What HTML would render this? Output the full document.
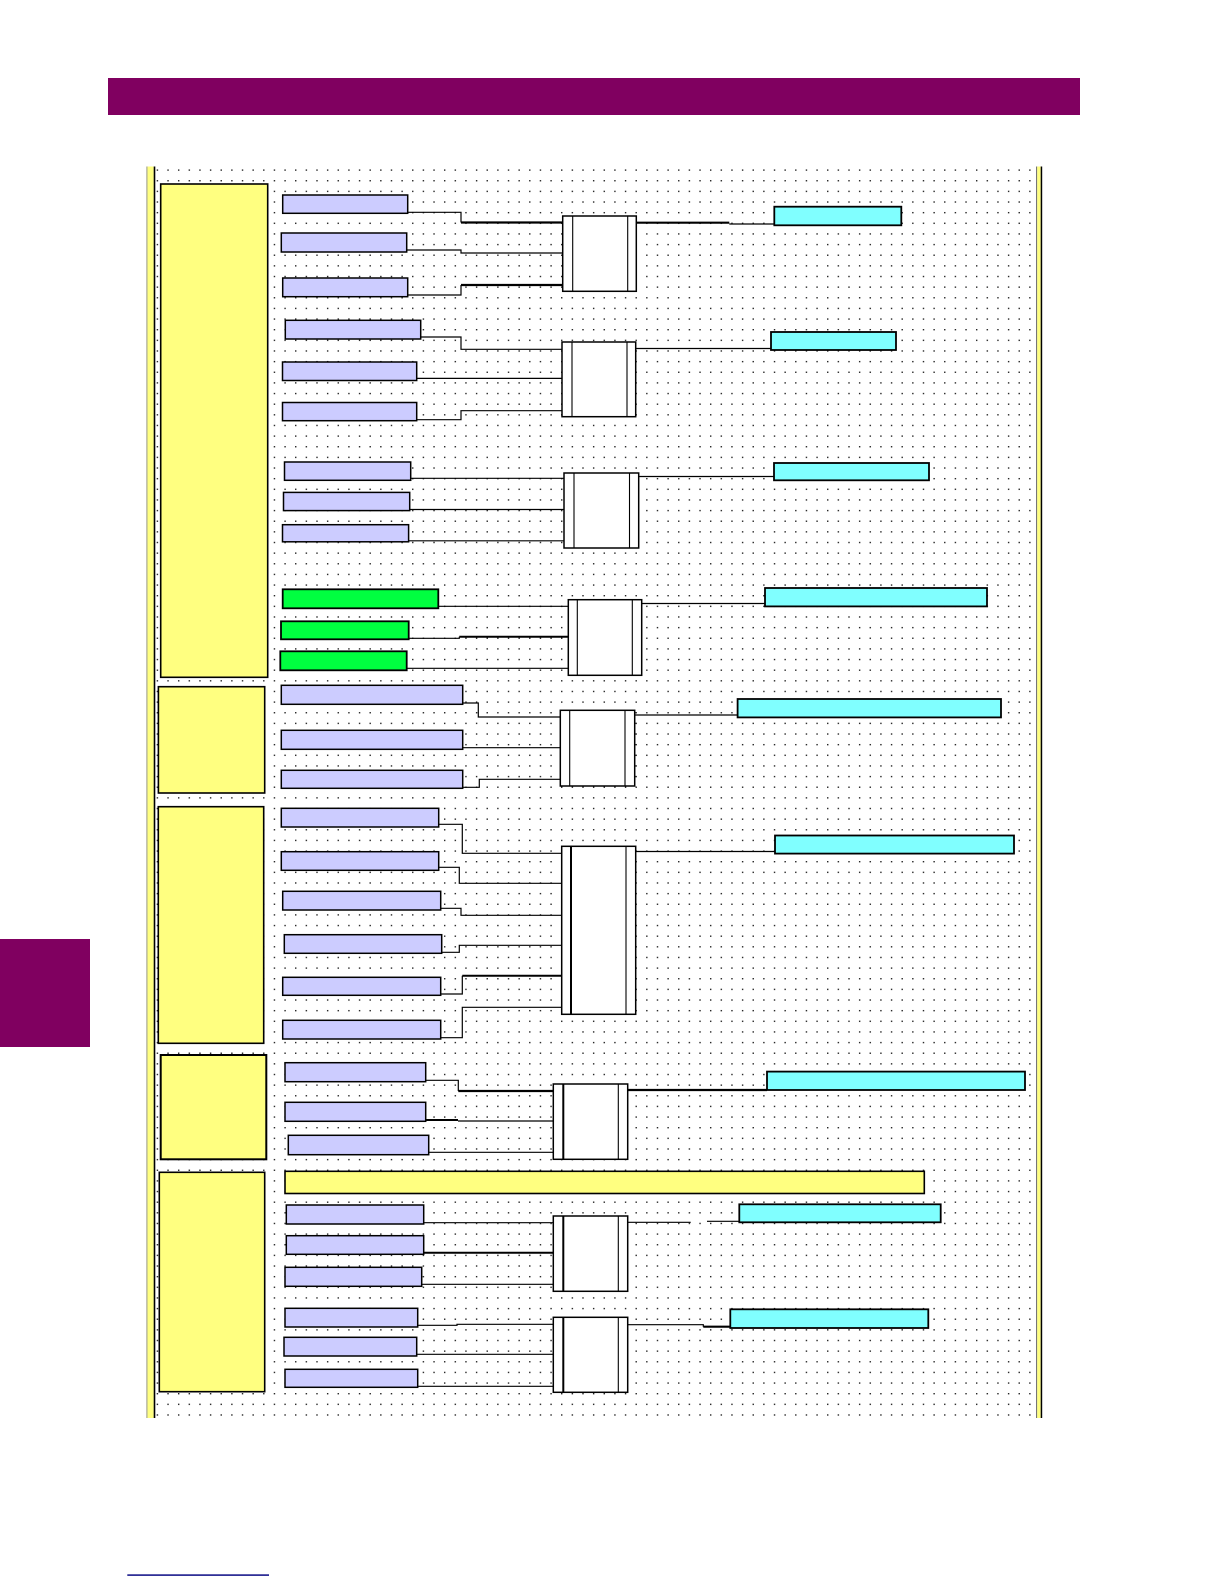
<!DOCTYPE html>
<html>
<head>
<meta charset="utf-8">
<style>
html,body{margin:0;padding:0;background:#fff;}
body{width:1224px;height:1584px;overflow:hidden;position:relative;font-family:"Liberation Sans",sans-serif;}
svg{position:absolute;left:0;top:0;}
</style>
</head>
<body>
<svg width="1224" height="1584" viewBox="0 0 1224 1584" xmlns="http://www.w3.org/2000/svg">
<defs>
<pattern id="dots" x="156.7" y="169.4" width="10.64" height="10.64" patternUnits="userSpaceOnUse">
<rect x="0" y="0" width="1.4" height="1.4" fill="#222"/>
</pattern>
</defs>

<!-- header bar -->
<rect x="108" y="78" width="972" height="37" fill="#800060"/>
<!-- left side tab -->
<rect x="0" y="939" width="90" height="108" fill="#800060"/>
<!-- bottom blue line -->
<rect x="127.3" y="1574.3" width="141.7" height="1.6" fill="#1a1a8c"/>

<!-- dot grid -->
<rect x="155" y="166" width="878" height="1253" fill="url(#dots)"/>

<!-- left frame strip -->
<rect x="146.3" y="166.5" width="1.2" height="1251.5" fill="#a8a890"/>
<rect x="147.5" y="166.5" width="6.2" height="1251.5" fill="#ffff80"/>
<rect x="153.7" y="166.5" width="1.6" height="1251.5" fill="#000"/>
<!-- right frame strip -->
<rect x="1036.2" y="166.5" width="1" height="1251.5" fill="#555"/>
<rect x="1037.2" y="166.5" width="3.5" height="1251.5" fill="#ffff80"/>
<rect x="1040.7" y="166.5" width="1.5" height="1251.5" fill="#000"/>

<!-- section panels -->
<g fill="#ffff80" stroke="#000" stroke-width="1.6">
<rect x="160.7" y="184" width="107" height="493.3"/>
<rect x="158.4" y="686.7" width="106.3" height="106.3"/>
<rect x="158.3" y="806.7" width="105.4" height="236.6"/>
<rect x="160.7" y="1055" width="105.6" height="104.3" stroke-width="2"/>
<rect x="159.3" y="1172.3" width="105.4" height="219.4"/>
<rect x="285" y="1171.3" width="639.3" height="22.2"/>
</g>

<!-- connection lines -->
<g fill="none" stroke="#000" stroke-width="1.2">
<!-- group 1 -->
<path d="M407.7,212.3 H461 V222.5"/>
<path d="M461,222.5 H562.7" stroke-width="2.2"/>
<path d="M406.7,250 H461 V253 H562.7"/>
<path d="M407.7,295 H461 V285"/>
<path d="M461,285 H562.7" stroke-width="2.2"/>
<!-- group 2 -->
<path d="M420.7,337 H461 V349.3 H562"/>
<path d="M416.7,378.4 H562"/>
<path d="M416.7,419.7 H461 V410.7 H562"/>
<!-- group 3 -->
<path d="M410.7,478.3 H564"/>
<path d="M409.7,509.5 H564"/>
<path d="M408.6,540.8 H564"/>
<!-- group 4 -->
<path d="M438.3,606.3 H568.3"/>
<path d="M408.7,638.3 H459.3 V636.7"/>
<path d="M459.3,636.7 H568.3" stroke-width="2"/>
<path d="M406.7,668.3 H568.3"/>
<!-- section 2 -->
<path d="M462.7,703 H478.3 V717 H560.3"/>
<path d="M462.7,747.7 H560.3"/>
<path d="M462.7,787.3 H479.3 V779.3 H560.3"/>
<!-- section 3 -->
<path d="M438.7,824.3 H462.3 V853.3 H561.7"/>
<path d="M438.7,867.3 H459.3 V883.3 H561.7"/>
<path d="M440.7,908.3 H461 V915.3 H561.7"/>
<path d="M441.7,952.3 H459.3 V945.3 H561.7"/>
<path d="M440.7,994 H462.3 V975.7"/>
<path d="M462.3,975.7 H561.7" stroke-width="2"/>
<path d="M440.7,1037.7 H462.3 V1007.3 H561.7"/>
<!-- section 4 -->
<path d="M425.7,1080.3 H458.3 V1091"/>
<path d="M458.3,1091 H553.3" stroke-width="2.2"/>
<path d="M425.7,1120 H458" stroke-width="2"/>
<path d="M458,1121 H553.3"/>
<path d="M428.7,1152.3 H553.3"/>
<!-- section 5 -->
<path d="M423.7,1222.7 H553.3"/>
<path d="M423.7,1252.7 H553.3" stroke-width="2"/>
<path d="M421.7,1284.3 H553.3"/>
<path d="M417.7,1325.3 H457 V1324.3 H553.3"/>
<path d="M416.7,1354.3 H553.3"/>
<path d="M417.7,1386.3 H553.3"/>

<!-- outputs -->
<path d="M636.3,222.7 H729.3" stroke-width="2.2"/>
<path d="M729.3,224 H774.3"/>
<path d="M635.7,348.5 H771"/>
<path d="M638.7,476.5 H774"/>
<path d="M641.7,603.5 H765"/>
<path d="M634.7,715 H737.6"/>
<path d="M635.7,851.5 H775"/>
<path d="M627.7,1090 H767" stroke-width="2.2"/>
<path d="M627.7,1222.3 H690.7"/>
<path d="M707,1221.3 H739.3"/>
<path d="M627.7,1324.7 H703.3 V1326.7"/>
<path d="M703.3,1326.7 H730.3" stroke-width="2.2"/>
</g>

<!-- input boxes (lilac) -->
<g fill="#ccccff" stroke="#000" stroke-width="1.5">
<rect x="282.7" y="195" width="125" height="18.3"/>
<rect x="281.3" y="233" width="125.4" height="19"/>
<rect x="282.7" y="278" width="125" height="18.7"/>
<rect x="285.3" y="320.3" width="135.4" height="18.7"/>
<rect x="282.5" y="362" width="134.2" height="18.5"/>
<rect x="282.5" y="402.5" width="134.2" height="18.2"/>
<rect x="284.5" y="462" width="126.2" height="18.3"/>
<rect x="283.5" y="492.4" width="126.2" height="18.2"/>
<rect x="282.5" y="524.7" width="126.1" height="17.1"/>
<rect x="281.3" y="685.3" width="181.4" height="19"/>
<rect x="281.3" y="730.3" width="181.4" height="19"/>
<rect x="281.3" y="770.3" width="181.4" height="18"/>
<rect x="281.3" y="808.3" width="157.4" height="18.7"/>
<rect x="281.3" y="851.7" width="157.4" height="18.6"/>
<rect x="282.7" y="891.3" width="158" height="18.7"/>
<rect x="284.3" y="934.7" width="157.4" height="18.6"/>
<rect x="282.7" y="977.3" width="158" height="18"/>
<rect x="282.7" y="1020.3" width="158" height="18.7"/>
<rect x="285" y="1062.7" width="140.7" height="19"/>
<rect x="285" y="1102.3" width="140.7" height="19"/>
<rect x="288.3" y="1135.3" width="140.4" height="19.4"/>
<rect x="286.3" y="1205" width="137.4" height="19"/>
<rect x="286.3" y="1235.7" width="137.4" height="18.6"/>
<rect x="285" y="1267.3" width="136.7" height="19"/>
<rect x="285" y="1308.3" width="132.7" height="18.7"/>
<rect x="284" y="1337.3" width="132.7" height="18.7"/>
<rect x="285" y="1369.3" width="132.7" height="18"/>
</g>
<!-- green boxes -->
<g fill="#00ff40" stroke="#000" stroke-width="1.8">
<rect x="282.7" y="589.3" width="155.6" height="19"/>
<rect x="281" y="621.3" width="127.7" height="18"/>
<rect x="280.3" y="651.3" width="126.4" height="19"/>
</g>

<!-- gates -->
<g fill="#fff" stroke="#000" stroke-width="1.5">
<rect x="562.7" y="216" width="73.6" height="75.3"/>
<rect x="562" y="342" width="73.7" height="74.7"/>
<rect x="564" y="473" width="74.7" height="75"/>
<rect x="568.3" y="599.7" width="73.4" height="75.6"/>
<rect x="560.3" y="710.3" width="74.4" height="75.7"/>
<rect x="561.7" y="846.3" width="74" height="168"/>
<rect x="553.3" y="1084" width="74.4" height="75.3"/>
<rect x="553.3" y="1216" width="74.4" height="75.3"/>
<rect x="553.3" y="1317.3" width="74.4" height="75"/>
</g>
<g stroke="#000" stroke-width="1.1">
<path d="M572.7,216 V291.3 M627.7,216 V291.3"/>
<path d="M572,342 V416.7 M627,342 V416.7"/>
<path d="M574,473 V548 M629.5,473 V548"/>
<path d="M577.3,599.7 V675.3 M632.3,599.7 V675.3"/>
<path d="M569.7,710.3 V786 M625,710.3 V786"/>
<path d="M571,846.3 V1014.3" stroke-width="2"/>
<path d="M626,846.3 V1014.3"/>
<path d="M563.3,1084 V1159.3" stroke-width="2"/>
<path d="M618.3,1084 V1159.3"/>
<path d="M563.3,1216 V1291.3" stroke-width="2"/>
<path d="M618.3,1216 V1291.3"/>
<path d="M563.3,1317.3 V1392.3" stroke-width="2"/>
<path d="M618.3,1317.3 V1392.3"/>
</g>

<!-- output boxes (cyan) -->
<g fill="#80ffff" stroke="#000" stroke-width="1.8">
<rect x="774.3" y="206.7" width="127" height="18.6"/>
<rect x="771" y="332" width="125" height="18"/>
<rect x="774" y="463" width="155" height="17.3"/>
<rect x="765" y="588" width="222" height="18.4"/>
<rect x="737.6" y="699" width="263.4" height="18.4"/>
<rect x="775" y="835.5" width="239" height="18.1"/>
<rect x="767" y="1071.6" width="258" height="18.4"/>
<rect x="739.3" y="1204.3" width="201.4" height="18"/>
<rect x="730.3" y="1309.3" width="198" height="18.7"/>
</g>
</svg>
</body>
</html>
